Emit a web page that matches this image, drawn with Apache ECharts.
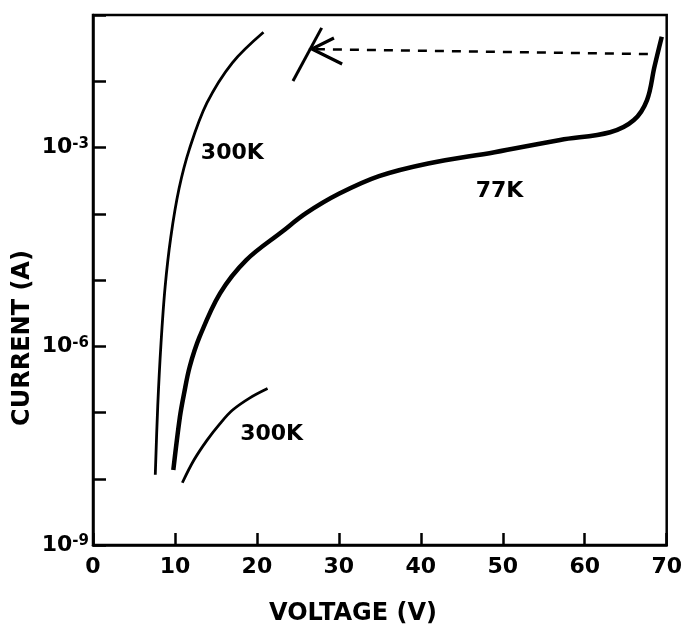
<!DOCTYPE html>
<html>
<head>
<meta charset="utf-8">
<script src="https://cdn.jsdelivr.net/npm/echarts@6/dist/echarts.min.js"></script>
<style>
  html, body { margin: 0; padding: 0; background: #fff; }
  #chart { width: 685px; height: 624px; }
</style>
</head>
<body>
<div id="chart"></div>
<script>
// voltage (V) / current (A)
var v300Upper = [7.6, 7.9, 8.3, 8.8, 9.5, 10.5, 11.8, 13.9, 17.0, 20.8];
var i300Upper = [1.15e-8, 1.26e-7, 1.12e-6, 7.9e-6, 4.5e-5, 2.4e-4, 9.8e-4, 4.7e-3, 1.9e-2, 5.5e-2];

var v77 = [9.8, 10.6, 11.1, 11.8, 13.0, 15.5, 18.7, 23.1, 26.0, 30.0, 34.9, 40.9, 49.0, 57.0, 63.1, 66.0, 67.6, 68.5, 69.4];
var i77 = [1.35e-8, 8.5e-8, 1.9e-7, 4.9e-7, 1.38e-6, 6.3e-6, 2.0e-5, 5.4e-5, 1.02e-4, 2.0e-4, 3.7e-4, 5.75e-4, 8.5e-4, 1.3e-3, 1.7e-3, 2.6e-3, 5.2e-3, 1.64e-2, 4.7e-2];

var v300Lower = [10.9, 12.3, 13.9, 15.5, 17.0, 19.1, 21.3];
var i300Lower = [8.7e-9, 1.9e-8, 3.8e-8, 6.8e-8, 1.08e-7, 1.65e-7, 2.3e-7];

// switching jump (dashed) and return branch with arrow
var vJump = [27.2, 68.2];
var iJump = [3.05e-2, 2.57e-2];
var vReturn = [24.4, 27.9];
var iReturn = [1.01e-2, 6.4e-2];
var vArrow = [29.4, 26.7, 30.4];
var iArrow = [4.5e-2, 3.07e-2, 1.82e-2];

var curveLabels = ['300K', '77K', '300K'];
var labelV = [17.0, 49.6, 21.8];
var labelI = [8.3e-4, 2.2e-4, 4.7e-8];

var xTicks = [0, 10, 20, 30, 40, 50, 60, 70];
var yLabelExp = [-3, -6, -9];

function zip(xs, ys) {
  return xs.map(function (x, i) { return [x, ys[i]]; });
}

var FONT = 'DejaVu Sans';
var chart = echarts.init(document.getElementById('chart'));

var lineBase = {
  type: 'line',
  showSymbol: false,
  symbol: 'none',
  silent: true,
  z: 3
};

chart.setOption({
  animation: false,
  backgroundColor: '#fff',
  grid: {
    left: 93, right: 15, top: 15, bottom: 79,
    show: true, borderColor: '#000', borderWidth: 2.5
  },
  xAxis: {
    type: 'value',
    min: xTicks[0],
    max: xTicks[xTicks.length - 1],
    interval: 10,
    axisLine: { lineStyle: { color: '#000', width: 2.5 } },
    axisTick: { inside: true, length: 12, lineStyle: { color: '#000', width: 2.5 } },
    axisLabel: { color: '#000', fontFamily: FONT, fontWeight: 'bold', fontSize: 22, margin: 11 },
    splitLine: { show: false }
  },
  yAxis: {
    type: 'log',
    logBase: 10,
    min: 1e-9,
    max: 1e-1,
    interval: 1,
    axisLine: { lineStyle: { color: '#000', width: 2.5 } },
    axisTick: { inside: true, length: 13, lineStyle: { color: '#000', width: 2.5 } },
    axisLabel: {
      color: '#000',
      fontFamily: FONT,
      fontWeight: 'bold',
      fontSize: 22,
      margin: 4,
      formatter: function (v) {
        var e = Math.round(Math.log10(v));
        if (yLabelExp.indexOf(e) < 0) return '';
        return '10{s|' + e + '}';
      },
      rich: {
        s: { fontSize: 15, fontFamily: FONT, fontWeight: 'bold', color: '#000', verticalAlign: 'top', lineHeight: 15, padding: [0, 0, 10, 0] }
      }
    },
    splitLine: { show: false }
  },
  graphic: [
    {
      type: 'text', x: 353, y: 614,
      style: { text: 'VOLTAGE (V)', font: 'bold 24px "DejaVu Sans"', fill: '#000', textAlign: 'center', textVerticalAlign: 'middle' }
    },
    {
      type: 'text', x: 23, y: 338, rotation: Math.PI / 2,
      style: { text: 'CURRENT (A)', font: 'bold 24px "DejaVu Sans"', fill: '#000', textAlign: 'center', textVerticalAlign: 'middle' }
    }
  ],
  series: [
    Object.assign({}, lineBase, {
      name: '300K upper', data: zip(v300Upper, i300Upper), smooth: 0.35,
      lineStyle: { color: '#000', width: 2.8 }
    }),
    Object.assign({}, lineBase, {
      name: '77K', data: zip(v77, i77), smooth: 0.35,
      lineStyle: { color: '#000', width: 4.5 }
    }),
    Object.assign({}, lineBase, {
      name: '300K lower', data: zip(v300Lower, i300Lower), smooth: 0.35,
      lineStyle: { color: '#000', width: 2.8 }
    }),
    Object.assign({}, lineBase, {
      name: 'jump', data: zip(vJump, iJump),
      lineStyle: { color: '#000', width: 2.5, type: [9, 8] }
    }),
    Object.assign({}, lineBase, {
      name: 'return', data: zip(vReturn, iReturn),
      lineStyle: { color: '#000', width: 3 }
    }),
    Object.assign({}, lineBase, {
      name: 'arrow', data: zip(vArrow, iArrow),
      lineStyle: { color: '#000', width: 3.2, join: 'miter' }
    }),
    {
      type: 'scatter',
      symbolSize: 0,
      silent: true,
      itemStyle: { opacity: 1, color: '#000' },
      data: curveLabels.map(function (t, i) { return { value: [labelV[i], labelI[i]], name: t }; }),
      label: {
        show: true,
        position: 'inside',
        formatter: function (p) { return p.name; },
        color: '#000',
        textBorderWidth: 0,
        fontFamily: FONT,
        fontWeight: 'bold',
        fontSize: 22
      }
    }
  ]
});
</script>
</body>
</html>
